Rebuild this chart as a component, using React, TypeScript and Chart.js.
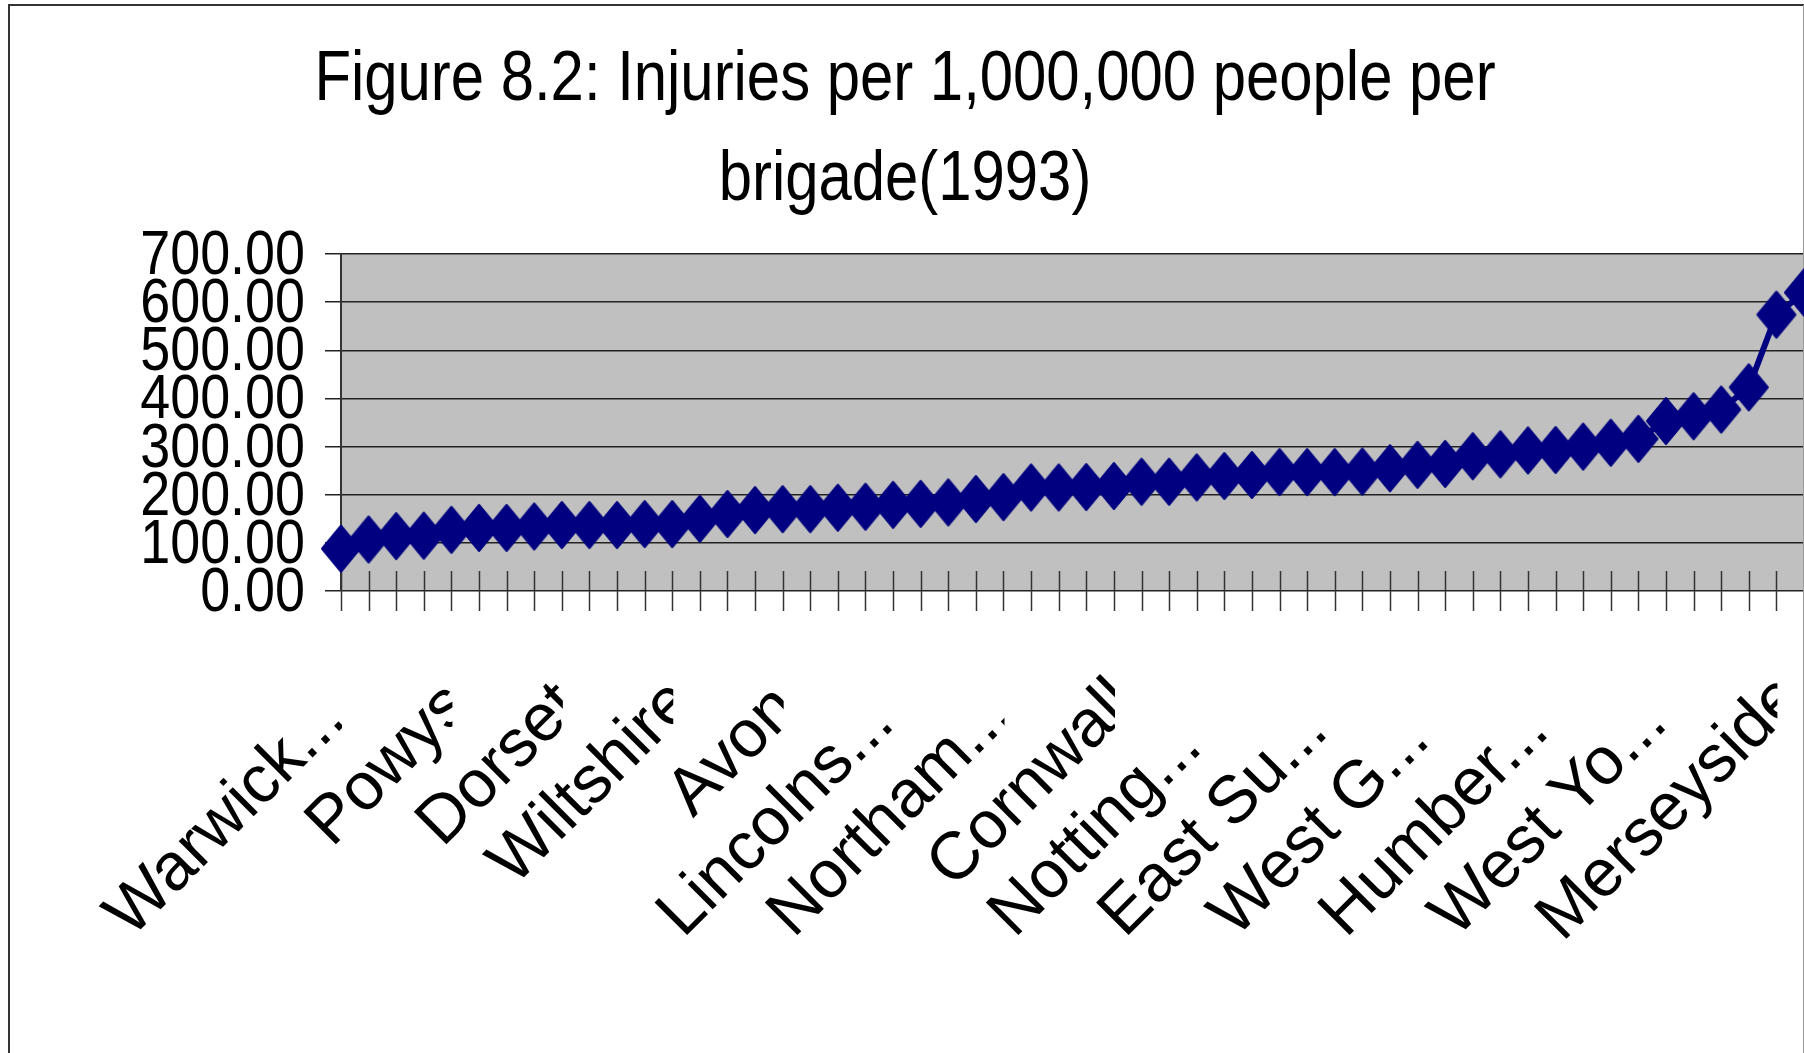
import { useEffect, useRef } from "react";
import { Chart, registerables } from "chart.js";

Chart.register(...registerables);

// Brigade names shown on the category axis (every fourth brigade is labelled)
const brigadeLabels = [
  "Warwick...",
  "Powys",
  "Dorset",
  "Wiltshire",
  "Avon",
  "Lincolns...",
  "Northam...",
  "Cornwall",
  "Notting...",
  "East Su...",
  "West G...",
  "Humber...",
  "West Yo...",
  "Merseyside",
];
const labelEvery = 4;

// Injuries per 1,000,000 people, brigades sorted in ascending order
const injuries = [
  88, 107, 114, 115, 127, 131, 131, 134, 137, 137,
  137, 139, 139, 150, 160, 168, 170, 170, 173, 175,
  179, 181, 184, 191, 195, 215, 215, 216, 218, 227,
  227, 236, 239, 241, 247, 247, 247, 248, 255, 262,
  264, 280, 284, 292, 293, 300, 308, 316, 353, 363,
  377, 423, 574, 620,
];

const yTicks = [0, 100, 200, 300, 400, 500, 600, 700];
const titleLines = ["Figure 8.2: Injuries per 1,000,000 people per", "brigade(1993)"];

const categories = injuries.map((_, i) =>
  i % labelEvery === 0 ? brigadeLabels[i / labelEvery] ?? "" : ""
);

const FONT = '"Liberation Sans", Arial, sans-serif';
const NAVY = "#000080";
const CONDENSE = 0.855;
const LABEL_SIZE = 67;

function makeDiamond(): HTMLCanvasElement {
  const c = document.createElement("canvas");
  c.width = 44;
  c.height = 52;
  const g = c.getContext("2d")!;
  g.fillStyle = NAVY;
  g.strokeStyle = NAVY;
  g.lineWidth = 2;
  g.lineJoin = "round";
  g.beginPath();
  g.moveTo(22, 3);
  g.lineTo(41, 26);
  g.lineTo(22, 49);
  g.lineTo(3, 26);
  g.closePath();
  g.fill();
  g.stroke();
  return c;
}

const decor = {
  id: "decor",
  beforeDraw(chart: any) {
    const { ctx, chartArea: a, width, height } = chart;
    ctx.save();
    ctx.fillStyle = "#ffffff";
    ctx.fillRect(0, 0, width, height);
    ctx.fillStyle = "#c0c0c0";
    ctx.fillRect(a.left, a.top, a.right - a.left, a.bottom - a.top);
    // chart frame
    ctx.strokeStyle = "#333333";
    ctx.lineWidth = 2;
    ctx.beginPath();
    ctx.moveTo(9, height);
    ctx.lineTo(9, 5);
    ctx.lineTo(width, 5);
    ctx.stroke();
    ctx.restore();
  },
  beforeDatasetsDraw(chart: any) {
    const { ctx, chartArea: a, width, height } = chart;
    const xs = chart.scales.x;
    ctx.save();
    // crossing tick marks on the category axis
    ctx.strokeStyle = "#333333";
    ctx.lineWidth = 1.5;
    ctx.beginPath();
    categories.forEach((_, i) => {
      const x = Math.round(xs.getPixelForValue(i)) + 0.5;
      ctx.moveTo(x, a.bottom - 20);
      ctx.lineTo(x, a.bottom + 20);
    });
    ctx.stroke();
    // right edge of the frame
    ctx.strokeStyle = "#999999";
    ctx.lineWidth = 1;
    ctx.beginPath();
    ctx.moveTo(width - 0.5, 5);
    ctx.lineTo(width - 0.5, height);
    ctx.stroke();
    ctx.restore();
  },
  afterDraw(chart: any) {
    const { ctx, chartArea: a } = chart;
    const xs = chart.scales.x;
    const ys = chart.scales.y;
    ctx.save();
    ctx.fillStyle = "#000000";

    // title, condensed
    ctx.font = `70px ${FONT}`;
    ctx.textAlign = "center";
    ctx.textBaseline = "alphabetic";
    titleLines.forEach((line, k) => {
      ctx.save();
      ctx.translate(905, 100 + k * 100);
      ctx.scale(CONDENSE, 1);
      ctx.fillText(line, 0, 0);
      ctx.restore();
    });

    // value axis labels, condensed
    ctx.font = `63px ${FONT}`;
    ctx.textAlign = "right";
    yTicks.forEach((v) => {
      const y = ys.getPixelForValue(v);
      ctx.save();
      ctx.translate(305, y + 20);
      ctx.scale(CONDENSE, 1);
      ctx.fillText(v.toFixed(2), 0, 0);
      ctx.restore();
    });

    // category labels: 45° text boxes ending at their tick, clipped there
    ctx.font = `${LABEL_SIZE}px ${FONT}`;
    ctx.textAlign = "left";
    const r = Math.SQRT1_2;
    const boxWidth = 4.62 * LABEL_SIZE;
    categories.forEach((label, i) => {
      if (!label) return;
      const tx = xs.getPixelForValue(i);
      const w = ctx.measureText(label).width;
      const span = label.endsWith("...") ? boxWidth : 0.92 * w;
      const ex = tx + 9;
      const ey = 720;
      ctx.save();
      ctx.beginPath();
      ctx.rect(tx - 700, a.bottom + 21, 701, 600);
      ctx.clip();
      ctx.translate(ex - span * r, ey + span * r);
      ctx.rotate(-Math.PI / 4);
      ctx.fillText(label, 0, 0);
      ctx.restore();
    });
    ctx.restore();
  },
};

export default function App() {
  const ref = useRef<HTMLCanvasElement | null>(null);

  useEffect(() => {
    if (!ref.current) return;
    const diamond = makeDiamond();
    const chart = new Chart(ref.current, {
      type: "line",
      data: {
        labels: categories,
        datasets: [
          {
            data: injuries,
            borderColor: NAVY,
            backgroundColor: NAVY,
            borderWidth: 6,
            tension: 0,
            pointStyle: diamond as any,
            pointRadius: 24,
            pointHoverRadius: 24,
            clip: false as any,
          },
        ],
      },
      options: {
        responsive: false,
        animation: false,
        events: [],
        layout: { autoPadding: false, padding: { top: 254, left: 0, right: 0, bottom: 0 } },
        plugins: {
          legend: { display: false },
          title: { display: false },
          tooltip: { enabled: false },
        },
        scales: {
          x: {
            type: "category",
            offset: false,
            grid: { display: false },
            border: { display: false },
            ticks: { display: false, autoSkip: false },
            afterFit: (s: any) => {
              s.height = 462;
              s.paddingLeft = 0;
              s.paddingRight = 0;
            },
          },
          y: {
            min: 0,
            max: 700,
            ticks: { display: false, stepSize: 100 },
            grid: { color: "#222222", lineWidth: 1.5, tickLength: 16, drawTicks: true },
            border: { display: true, color: "#333333", width: 2 },
            afterFit: (s: any) => {
              s.width = 341;
              s.paddingTop = 0;
              s.paddingBottom = 0;
            },
          },
        },
      },
      plugins: [decor],
    });
    return () => chart.destroy();
  }, []);

  return (
    <div style={{ position: "absolute", left: 0, top: 0, width: 1804, height: 1053, overflow: "hidden" }}>
      <canvas ref={ref} width={1804} height={1053} style={{ display: "block" }} />
    </div>
  );
}
